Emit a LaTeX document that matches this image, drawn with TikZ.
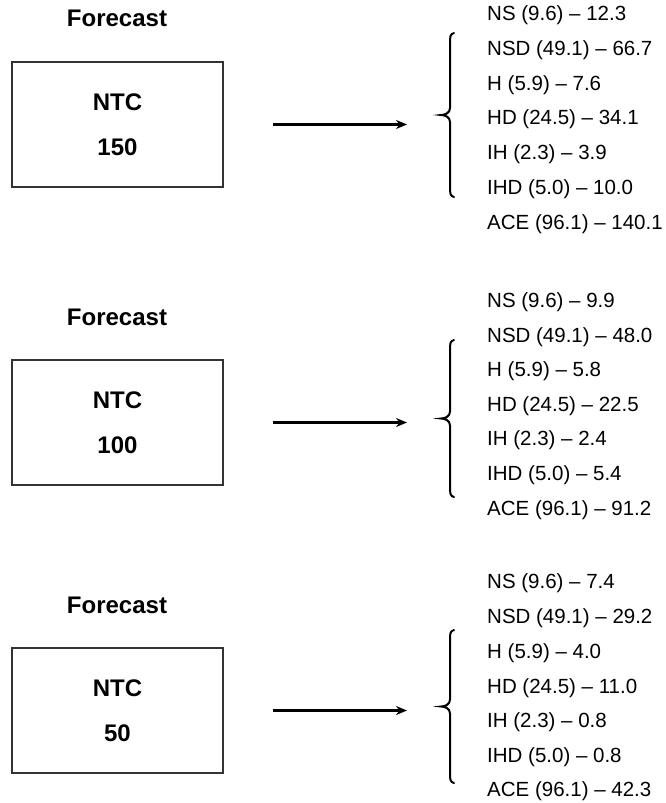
\documentclass[tikz,border=0pt]{standalone}
\usepackage{fontspec}
\setmainfont{Liberation Sans}
\usepackage{tikz}
\usetikzlibrary{positioning,arrows.meta}
\tikzstyle{ntcbox}  = [draw=black!80, line width=1.3pt, minimum width=211pt, minimum height=125pt, align=center, font=\fontsize{24}{45}\selectfont\bfseries]
\tikzstyle{title}   = [font=\fontsize{24}{28}\selectfont\bfseries]
\tikzstyle{row}     = [anchor=west, inner sep=0pt, font=\fontsize{20.5}{24}\selectfont]
\tikzstyle{arrow}   = [line width=2.3pt, -{Stealth[length=11pt,width=9pt]}]
\tikzstyle{curly}   = [line width=2pt, line cap=round]

% brace: x, top, bottom
\newcommand{\curlybrace}[3]{%
	\pgfmathsetmacro{\bmid}{(#2+#3)/2}
	\draw[curly] ({#1+4},#2) .. controls (#1,{#2+1}) and (#1,{#2+4}) .. (#1,{#2+10})
		-- (#1,{\bmid-7}) .. controls (#1,{\bmid-2}) and ({#1-5},\bmid) .. ({#1-9},\bmid)
		.. controls ({#1-5},\bmid) and (#1,{\bmid+2}) .. (#1,{\bmid+7})
		-- (#1,{#3-10}) .. controls (#1,{#3-4}) and (#1,{#3-1}) .. ({#1+4},#3);
}

\begin{document}
\begin{tikzpicture}[x=1pt,y=-1pt]
	\useasboundingbox (0,0) rectangle (665,803);

	% forecast 150
	\node[title] (fc1) at (117,18) {Forecast};
	\node[ntcbox] (box1) at (117.5,124.5) {NTC\\150};
	\coordinate (tip1) at (440,124.5);
	\draw[arrow, shorten <=49pt, shorten >=33pt] (box1) -- (tip1);
	\curlybrace{450}{33}{197}
	\node[row] (ns1)  at (487,15)  {NS (9.6) -- 12.3};
	\node[row] (nsd1) at (487,50)  {NSD (49.1) -- 66.7};
	\node[row] (h1)   at (487,85)  {H (5.9) -- 7.6};
	\node[row] (hd1)  at (487,119) {HD (24.5) -- 34.1};
	\node[row] (ih1)  at (487,154) {IH (2.3) -- 3.9};
	\node[row] (ihd1) at (487,189) {IHD (5.0) -- 10.0};
	\node[row] (ace1) at (487,224) {ACE (96.1) -- 140.1};

	% forecast 100
	\node[title] (fc2) at (117,317) {Forecast};
	\node[ntcbox] (box2) at (117.5,422.5) {NTC\\100};
	\coordinate (tip2) at (440,422.5);
	\draw[arrow, shorten <=49pt, shorten >=33pt] (box2) -- (tip2);
	\curlybrace{450}{340}{497}
	\node[row] (ns2)  at (487,302) {NS (9.6) -- 9.9};
	\node[row] (nsd2) at (487,337) {NSD (49.1) -- 48.0};
	\node[row] (h2)   at (487,371) {H (5.9) -- 5.8};
	\node[row] (hd2)  at (487,406) {HD (24.5) -- 22.5};
	\node[row] (ih2)  at (487,440) {IH (2.3) -- 2.4};
	\node[row] (ihd2) at (487,475) {IHD (5.0) -- 5.4};
	\node[row] (ace2) at (487,510) {ACE (96.1) -- 91.2};

	% forecast 50
	\node[title] (fc3) at (117,605) {Forecast};
	\node[ntcbox] (box3) at (117.5,710.5) {NTC\\50};
	\coordinate (tip3) at (440,710.5);
	\draw[arrow, shorten <=49pt, shorten >=33pt] (box3) -- (tip3);
	\curlybrace{450}{630}{783}
	\node[row] (ns3)  at (487,583) {NS (9.6) -- 7.4};
	\node[row] (nsd3) at (487,618) {NSD (49.1) -- 29.2};
	\node[row] (h3)   at (487,653) {H (5.9) -- 4.0};
	\node[row] (hd3)  at (487,688) {HD (24.5) -- 11.0};
	\node[row] (ih3)  at (487,722) {IH (2.3) -- 0.8};
	\node[row] (ihd3) at (487,757) {IHD (5.0) -- 0.8};
	\node[row] (ace3) at (487,791) {ACE (96.1) -- 42.3};
\end{tikzpicture}
\end{document}
